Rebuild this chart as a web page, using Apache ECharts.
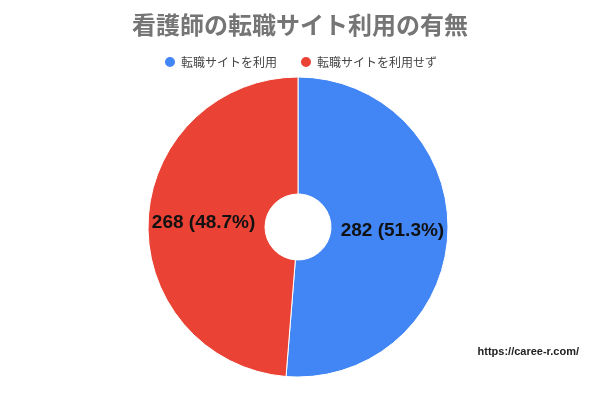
<!DOCTYPE html>
<html><head><meta charset="utf-8">
<script src="https://cdn.jsdelivr.net/npm/echarts@6/dist/echarts.min.js"></script>
<style>html,body{margin:0;padding:0;background:#fff}#c{width:600px;height:394px}</style>
</head><body><div id="c"></div>
<script>
const title = '看護師の転職サイト利用の有無';
const categories = ['転職サイトを利用', '転職サイトを利用せず'];
const values = [282, 268];
const colors = ['#4285F4', '#EA4335'];
const watermark = 'https://caree-r.com/';

const total = values.reduce((a, b) => a + b, 0);
const chart = echarts.init(document.getElementById('c'));
chart.setOption({
  animation: false,
  color: colors,
  title: {
    text: title, left: 'center', top: 8,
    textStyle: { fontFamily: 'Noto Sans CJK JP', fontSize: 24, fontWeight: 'bold', color: '#757575' }
  },
  legend: {
    top: 50, left: 'center', icon: 'circle', itemWidth: 12, itemHeight: 12, itemGap: 22,
    textStyle: { fontFamily: 'Noto Sans CJK JP', fontSize: 12, color: '#444' },
    data: categories
  },
  graphic: [{
    type: 'text', right: 21, top: 346,
    style: { text: watermark, font: 'bold 11px "Liberation Sans", Arial', fill: '#222' }
  }],
  series: [{
    type: 'pie',
    center: [298, 227],
    radius: [33, 150],
    startAngle: 90,
    clockwise: true,
    itemStyle: { borderColor: '#fff', borderWidth: 1 },
    label: {
      position: 'inside',
      fontFamily: '"Liberation Sans", Arial',
      fontSize: 19, fontWeight: 'bold', color: '#111',
      formatter: p => p.value + ' (' + (p.value / total * 100).toFixed(1) + '%)'
    },
    labelLine: { show: false },
    data: categories.map((n, i) => ({ name: n, value: values[i] }))
  }]
});
</script></body></html>
